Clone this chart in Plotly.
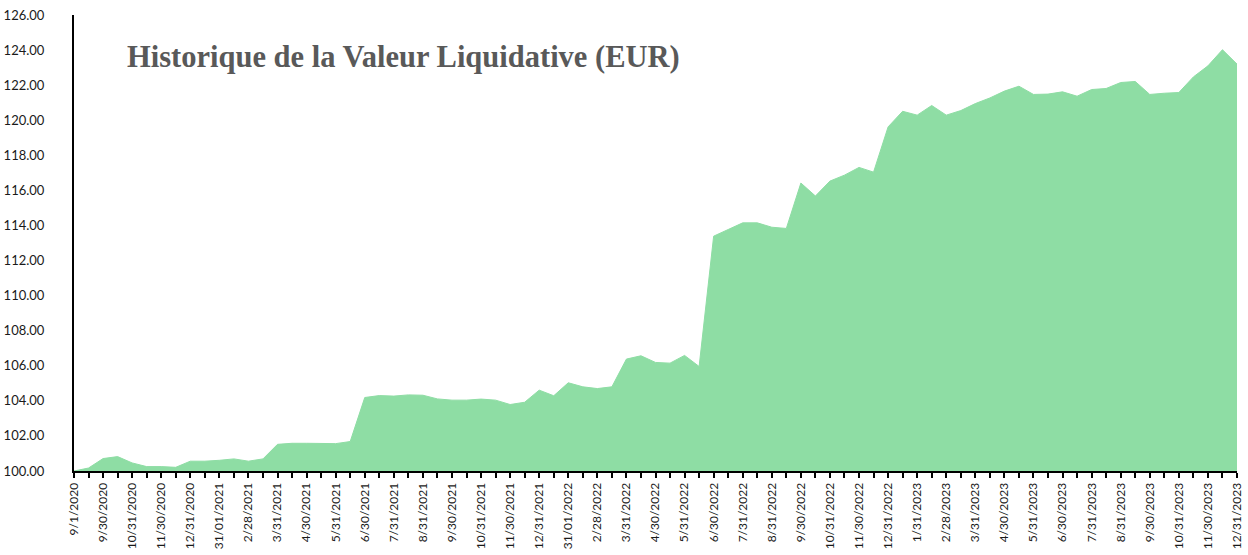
import plotly.graph_objects as go

# NAV values, one point per half-month (81 points)
values = [
    100.00, 100.17, 100.71, 100.82, 100.46, 100.25, 100.25, 100.21, 100.56, 100.56,
    100.61, 100.69, 100.56, 100.69, 101.52, 101.58, 101.58, 101.58, 101.56, 101.68,
    104.19, 104.30, 104.27, 104.34, 104.32, 104.11, 104.04, 104.04, 104.10, 104.04,
    103.79, 103.92, 104.61, 104.29, 105.03, 104.80, 104.70, 104.80, 106.38, 106.57,
    106.19, 106.15, 106.59, 105.96, 113.39, 113.77, 114.15, 114.15, 113.90, 113.83,
    116.42, 115.68, 116.53, 116.87, 117.31, 117.04, 119.62, 120.51, 120.29, 120.84,
    120.29, 120.55, 120.95, 121.27, 121.66, 121.94, 121.47, 121.49, 121.62, 121.37,
    121.75, 121.81, 122.15, 122.21, 121.47, 121.54, 121.58, 122.47, 123.10, 124.02,
    123.20,
]

# Labels shown on every other point
tick_labels = [
    "9/1/2020", "9/30/2020", "10/31/2020", "11/30/2020", "12/31/2020", "31/01/2021",
    "2/28/2021", "3/31/2021", "4/30/2021", "5/31/2021", "6/30/2021", "7/31/2021",
    "8/31/2021", "9/30/2021", "10/31/2021", "11/30/2021", "12/31/2021", "31/01/2022",
    "2/28/2022", "3/31/2022", "4/30/2022", "5/31/2022", "6/30/2022", "7/31/2022",
    "8/31/2022", "9/30/2022", "10/31/2022", "11/30/2022", "12/31/2022", "1/31/2023",
    "2/28/2023", "3/31/2023", "4/30/2023", "5/31/2023", "6/30/2023", "7/31/2023",
    "8/31/2023", "9/30/2023", "10/31/2023", "11/30/2023", "12/31/2023",
]

title_text = "Historique de la Valeur Liquidative (EUR)"

x = list(range(len(values)))
ticktext = []
for i in x:
    ticktext.append(tick_labels[i // 2] if i % 2 == 0 else "")

fig = go.Figure()
fig.add_trace(go.Scatter(
    x=x, y=values, mode="lines", fill="tozeroy",
    fillcolor="#8EDDA4", line=dict(color="#8EDDA4", width=1),
    hoverinfo="skip", showlegend=False,
))

fig.update_layout(
    width=1248, height=555,
    margin=dict(l=74, r=11, t=15, b=83.5, autoexpand=False),
    paper_bgcolor="white", plot_bgcolor="white",
    font=dict(family="Lato", color="#1a1a1a"),
    xaxis=dict(
        range=[0, len(values) - 1], tickmode="array", tickvals=x, ticktext=ticktext,
        tickangle=-90, ticks="outside", ticklen=5, tickwidth=1.5, tickcolor="black",
        showline=True, linecolor="black", linewidth=2, showgrid=False, zeroline=False,
        automargin=False,
        tickfont=dict(family="Lato", size=12, color="#1a1a1a"),
    ),
    yaxis=dict(
        range=[100, 126], dtick=2, tick0=100, tickformat=".2f",
        showline=True, linecolor="black", linewidth=2, showgrid=False, zeroline=False,
        ticks="", ticklabelstandoff=25, automargin=False,
        tickfont=dict(family="Lato", size=13, color="#1a1a1a"),
    ),
    annotations=[dict(
        text="<b>" + title_text + "</b>", xref="paper", yref="paper",
        x=0.0439, y=0.908, xanchor="left", yanchor="middle", showarrow=False,
        font=dict(family="Liberation Serif", size=30.5, color="#595959"),
    )],
)

# remove the default 8px page margin so the figure sits at the window's corner
fig.write_html(
    "out.html",
    config={"displayModeBar": False},
    post_script="document.body.style.margin='0';document.body.style.overflow='hidden';",
)
